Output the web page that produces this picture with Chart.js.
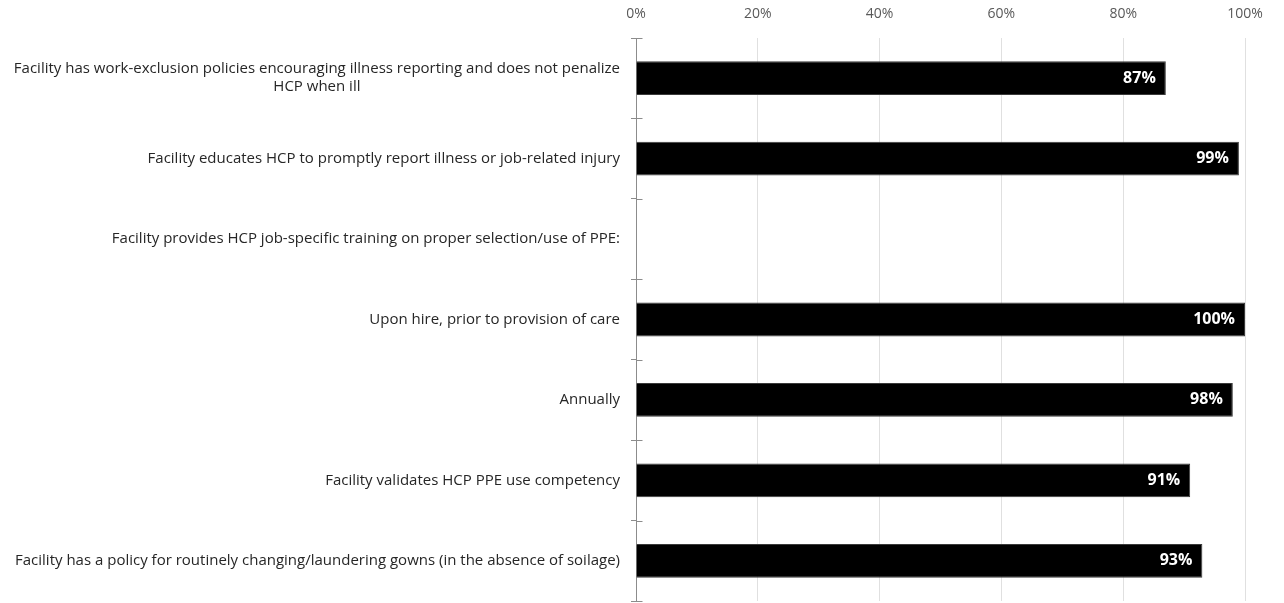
<!DOCTYPE html>
<html>
<head>
<meta charset="utf-8">
<script src="https://cdn.jsdelivr.net/npm/chart.js@4.4.1/dist/chart.umd.min.js"></script>
<style>
  html, body { margin: 0; padding: 0; background: #fff; }
  #wrap { width: 1284px; height: 603px; }
</style>
</head>
<body>
<div id="wrap"><canvas id="practiceChart"></canvas></div>
<script>
// categories (multi-line entries are arrays)
var categories = [
    ['Facility has work-exclusion policies encouraging illness reporting and does not penalize', 'HCP when ill'],
    'Facility educates HCP to promptly report illness or job-related injury',
    'Facility provides HCP job-specific training on proper selection/use of PPE:',
    'Upon hire, prior to provision of care',
    'Annually',
    'Facility validates HCP PPE use competency',
    'Facility has a policy for routinely changing/laundering gowns (in the absence of soilage)'
];
// percent of facilities, the heading row has no bar
var percentValues = [87, 99, null, 100, 98, 91, 93];
var xTickValues = [0, 20, 40, 60, 80, 100];

var labelFont = '15px "Open Sans", sans-serif';

// draws the category labels so wrapped lines are centred on each other
var categoryLabels = {
    id: 'categoryLabels',
    afterDraw: function(chart) {
        var ctx = chart.ctx;
        var yScale = chart.scales.y;
        var right = chart.chartArea.left - 16;
        ctx.save();
        ctx.font = labelFont;
        ctx.fillStyle = '#262626';
        ctx.textBaseline = 'middle';
        ctx.textAlign = 'center';
        for (var i = 0; i < categories.length; i++) {
            var lines = [].concat(categories[i]);
            var w = 0;
            lines.forEach(function(l) { w = Math.max(w, ctx.measureText(l).width); });
            var cx = right - w / 2;
            var cy = yScale.getPixelForValue(i);
            var lh = 18;
            var y0 = cy - (lines.length - 1) * lh / 2;
            lines.forEach(function(l, k) { ctx.fillText(l, cx, y0 + k * lh); });
        }
        // tick marks also poke into the plot side of the axis
        ctx.strokeStyle = '#8c8c8c';
        ctx.lineWidth = 1;
        var ax = Math.round(chart.chartArea.left) + 0.5;
        for (var j = 0; j <= categories.length; j++) {
            var ty = Math.round(yScale.getPixelForValue(j - 0.5)) + 0.5;
            ctx.beginPath();
            ctx.moveTo(ax, ty);
            ctx.lineTo(ax + 6, ty);
            ctx.stroke();
        }
        ctx.restore();
    }
};

// white value labels at the end of each bar
var valueLabels = {
    id: 'valueLabels',
    afterDatasetsDraw: function(chart) {
        var ctx = chart.ctx;
        var meta = chart.getDatasetMeta(0);
        ctx.save();
        ctx.font = 'bold 16px "Open Sans", sans-serif';
        ctx.fillStyle = '#ffffff';
        ctx.textAlign = 'right';
        ctx.textBaseline = 'middle';
        meta.data.forEach(function(bar, i) {
            if (percentValues[i] == null) return;
            ctx.fillText(percentValues[i] + '%', bar.x - 10, bar.y);
        });
        ctx.restore();
    }
};

var ctx = document.getElementById('practiceChart').getContext('2d');
var practiceChart = new Chart(ctx, {
    type: 'bar',
    data: {
        labels: categories,
        datasets: [{
            label: 'Facilities',
            data: percentValues,
            backgroundColor: '#000000',
            borderColor: '#3a3a3a',
            borderWidth: 1,
            borderSkipped: 'start',
            categoryPercentage: 1,
            barPercentage: 0.42
        }]
    },
    options: {
        indexAxis: 'y',
        responsive: true,
        maintainAspectRatio: false,
        animation: false,
        layout: {
            padding: { top: 0, right: 39, bottom: 2, left: 0 }
        },
        plugins: {
            legend: { display: false },
            tooltip: { enabled: false }
        },
        scales: {
            x: {
                position: 'top',
                min: 0,
                max: 100,
                afterBuildTicks: function(scale) {
                    scale.ticks = xTickValues.map(function(v) { return { value: v }; });
                },
                afterFit: function(scale) { scale.height = 38; },
                ticks: {
                    padding: 16,
                    color: '#595959',
                    font: { family: '"Open Sans", sans-serif', size: 14 },
                    callback: function(v) { return v + '%'; }
                },
                grid: {
                    color: function(c) { return c.tick && c.tick.value === 0 ? 'rgba(0,0,0,0)' : '#e0e0e0'; },
                    drawTicks: false
                },
                border: { display: false }
            },
            y: {
                ticks: { display: false },
                afterFit: function(scale) { scale.width = 636; },
                grid: {
                    offset: true,
                    drawOnChartArea: false,
                    drawTicks: true,
                    tickLength: 5,
                    color: '#8c8c8c'
                },
                border: { display: true, color: '#8c8c8c', width: 1 }
            }
        }
    },
    plugins: [categoryLabels, valueLabels]
});
</script>
</body>
</html>
